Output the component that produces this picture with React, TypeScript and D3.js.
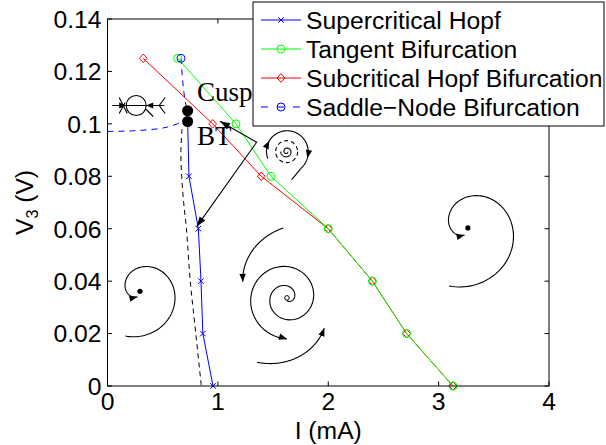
import React from "react";
import * as d3 from "d3";

type Pt = [number, number];

const xTicks = [0, 1, 2, 3, 4];
const yTicks = [0, 0.02, 0.04, 0.06, 0.08, 0.1, 0.12, 0.14];

// bifurcation curves: I (mA), V3 (V)
const superHopf: Pt[] = [[0.726, 0.1009], [0.738, 0.08], [0.823, 0.06], [0.847, 0.04], [0.864, 0.02], [0.956, 0]];
const tangent: Pt[] = [[0.636, 0.125], [1.164, 0.1], [1.481, 0.08], [2.0, 0.06], [2.4, 0.04], [2.71, 0.02], [3.13, 0]];
const subHopf: Pt[] = [[0.324, 0.125], [0.953, 0.1], [1.393, 0.08], [2.0, 0.06], [2.4, 0.04], [2.71, 0.02], [3.13, 0]];
const saddleNode: Pt[] = [[0.666, 0.125]];
const saddleNodeCurve: Pt[] = [[0.666, 0.125], [0.681, 0.1165], [0.702, 0.109], [0.723, 0.105]];
const homoclinic: Pt[] = [[0, 0.0971], [0.294, 0.0975], [0.536, 0.0987], [0.687, 0.1009]];
const blackDashed: Pt[] = [[0.675, 0.098], [0.665, 0.089], [0.672, 0.08], [0.69, 0.07], [0.715, 0.06], [0.75, 0.04], [0.80, 0.02], [0.85, 0]];

// special points and annotations
const cusp: Pt = [0.726, 0.105];
const bt: Pt = [0.726, 0.1009];
const cuspLabel: Pt = [0.81, 0.1087];
const btLabel: Pt = [0.81, 0.0921];
const pointer: Pt[] = [[1.019, 0.101], [1.351, 0.093], [0.808, 0.0608]];

// phase portrait sketches
const focusLeft: Pt = [0.294, 0.0361];
const focusRight: Pt = [3.265, 0.0603];
const focusMid: Pt = [1.626, 0.0336];
const cycleGlyph: Pt = [1.623, 0.0894];
const loopGlyph: Pt = [0.26, 0.107];

const legendItems = [
  { label: "Supercritical Hopf", color: "#0000ff", marker: "x", dash: "" },
  { label: "Tangent Bifurcation", color: "#00ff00", marker: "o", dash: "" },
  { label: "Subcritical Hopf Bifurcation", color: "#ff0000", marker: "d", dash: "" },
  { label: "Saddle\u2212Node Bifurcation", color: "#0000ff", marker: "o", dash: "7,9" },
];

const W = 606;
const H = 445;
const font = "'Liberation Sans', Arial, Helvetica, sans-serif";
const serif = "'Liberation Serif', 'Times New Roman', serif";
const fs = 24.7;

const x = d3.scaleLinear().domain([0, 4]).range([107.5, 549]);
const y = d3.scaleLinear().domain([0, 0.14]).range([386, 19]);

const line = d3.line<Pt>().x(d => x(d[0])).y(d => y(d[1]));
const smooth = d3.line<Pt>().x(d => x(d[0])).y(d => y(d[1])).curve(d3.curveCatmullRom);
const raw = d3.line<Pt>();

// sketch glyph: spiral arc around a centre, angles in degrees, radii in px
function spiral(c: Pt, a0: number, a1: number, r0: number, r1: number, k = 1): Pt[] {
  return d3.range(121).map(i => {
    const t = i / 120;
    const a = ((a0 + (a1 - a0) * t) * Math.PI) / 180;
    const r = (r0 + (r1 - r0) * t) * k;
    return [c[0] + r * Math.cos(a), c[1] + r * Math.sin(a)] as Pt;
  });
}

function head(from: Pt, tip: Pt, len = 8, hw = 3.2) {
  const dx = tip[0] - from[0];
  const dy = tip[1] - from[1];
  const n = Math.hypot(dx, dy) || 1;
  const ux = dx / n, uy = dy / n;
  const bx = tip[0] - ux * len, by = tip[1] - uy * len;
  return `M${tip[0]},${tip[1]}L${bx - uy * hw},${by + ux * hw}L${bx + uy * hw},${by - ux * hw}Z`;
}

function Marker({ kind, cx, cy, color }: { kind: string; cx: number; cy: number; color: string }) {
  if (kind === "x") {
    const s = 2.8;
    return <path d={`M${cx - s},${cy - s}L${cx + s},${cy + s}M${cx - s},${cy + s}L${cx + s},${cy - s}`} stroke={color} fill="none" />;
  }
  if (kind === "o") return <circle cx={cx} cy={cy} r={4} stroke={color} fill="none" />;
  const s = 4.3;
  return <path d={`M${cx},${cy - s}L${cx + s * 0.9},${cy}L${cx},${cy + s}L${cx - s * 0.9},${cy}Z`} stroke={color} fill="none" />;
}

function Traj({ pts, arrows = [] }: { pts: Pt[]; arrows?: number[] }) {
  return (
    <g>
      <path d={raw(pts) || ""} fill="none" stroke="#000" strokeWidth={1.1} />
      {arrows.map(i => (
        <path key={i} d={head(pts[Math.max(0, i - 4)], pts[i])} fill="#000" />
      ))}
    </g>
  );
}

function FocusSketch({ at, k }: { at: Pt; k: number }) {
  const c: Pt = [x(at[0]), y(at[1])];
  const pts = spiral(c, 108, -245, 47, 6, k);
  return (
    <g>
      <Traj pts={pts} arrows={[pts.length - 1]} />
      <circle cx={c[0]} cy={c[1]} r={2.6} fill="#000" />
    </g>
  );
}

function MidSketch({ at }: { at: Pt }) {
  const c: Pt = [x(at[0]), y(at[1])];
  const inner = spiral(c, 810, 90, 2.5, 41);
  const upper = spiral(c, -93, -160, 70, 47);
  const lower = spiral(c, 115, 39, 71, 48);
  return (
    <g>
      <circle cx={c[0]} cy={c[1]} r={2.3} fill="none" stroke="#000" />
      <Traj pts={inner} arrows={[inner.length - 1]} />
      <Traj pts={upper} arrows={[upper.length - 1]} />
      <Traj pts={lower} arrows={[lower.length - 1]} />
    </g>
  );
}

function CycleSketch({ at }: { at: Pt }) {
  const c: Pt = [x(at[0]), y(at[1])];
  const outer = spiral(c, -200, 50, 20, 22);
  const last = outer[outer.length - 1];
  const tail: Pt[] = [last, [c[0] + 10, c[1] + 22], [c[0] + 5, c[1] + 28]];
  const inner = spiral(c, 0, 540, 1, 6);
  return (
    <g>
      <Traj pts={outer} arrows={[25, 104]} />
      <path d={d3.line().curve(d3.curveBasis)(tail) || ""} fill="none" stroke="#000" strokeWidth={1.1} />
      <circle cx={c[0]} cy={c[1]} r={11} fill="none" stroke="#000" strokeWidth={1.1} strokeDasharray="4,3" />
      <path d={raw(inner) || ""} fill="none" stroke="#000" strokeWidth={1.1} />
    </g>
  );
}

function LoopSketch({ at }: { at: Pt }) {
  const [cx, cy] = [x(at[0]), y(at[1])];
  return (
    <g stroke="#000" strokeWidth={1.1} fill="none">
      <line x1={cx - 24} y1={cy} x2={cx + 28} y2={cy} />
      <circle cx={cx} cy={cy} r={10} />
      <path d={`M${cx - 17},${cy - 8}L${cx - 9},${cy + 8}M${cx - 17},${cy + 8}L${cx - 11},${cy - 3}`} />
      <path d={head([cx - 24, cy], [cx - 10, cy], 7, 3)} fill="#000" stroke="none" />
      <path d={head([cx + 24, cy], [cx + 10, cy], 7, 3)} fill="#000" stroke="none" />
      <path d={`M${cx + 10},${cy + 4}L${cx + 17},${cy + 11}`} />
      <path d={`M${cx + 29},${cy - 8}L${cx + 23},${cy}L${cx + 29},${cy + 8}`} />
    </g>
  );
}

export default function App() {
  const [x0, x1] = x.range();
  const [y0, y1] = y.range();
  const p = pointer.map(d => [x(d[0]), y(d[1])] as Pt);

  return (
    <svg width={W} height={H} style={{ position: "absolute", left: 0, top: 0, background: "#fff" }} fontFamily={font}>
      <rect width={W} height={H} fill="#fff" />

      {/* phase portraits */}
      <LoopSketch at={loopGlyph} />
      <FocusSketch at={focusLeft} k={1} />
      <FocusSketch at={focusRight} k={1.3} />
      <MidSketch at={focusMid} />
      <CycleSketch at={cycleGlyph} />

      {/* dashed curves */}
      <path d={smooth(homoclinic) || ""} fill="none" stroke="#0000ff" strokeDasharray="6,5" />
      <path d={smooth(saddleNodeCurve) || ""} fill="none" stroke="#0000ff" strokeDasharray="6,5" />
      <path d={smooth(blackDashed) || ""} fill="none" stroke="#000" strokeDasharray="5,4" />

      {/* bifurcation lines */}
      <path d={line(subHopf) || ""} fill="none" stroke="#ff0000" />
      <path d={line(tangent) || ""} fill="none" stroke="#00ff00" />
      <path d={line(superHopf) || ""} fill="none" stroke="#0000ff" />
      {subHopf.map((d, i) => <Marker key={`r${i}`} kind="d" cx={x(d[0])} cy={y(d[1])} color="#ff0000" />)}
      {tangent.map((d, i) => <Marker key={`g${i}`} kind="o" cx={x(d[0])} cy={y(d[1])} color="#00ff00" />)}
      {superHopf.map((d, i) => <Marker key={`b${i}`} kind="x" cx={x(d[0])} cy={y(d[1])} color="#0000ff" />)}
      {saddleNode.map((d, i) => <Marker key={`s${i}`} kind="o" cx={x(d[0])} cy={y(d[1])} color="#0000ff" />)}

      {/* cusp and BT */}
      <circle cx={x(cusp[0])} cy={y(cusp[1])} r={5.5} fill="#000" />
      <circle cx={x(bt[0])} cy={y(bt[1])} r={5.5} fill="#000" />
      <text x={x(cuspLabel[0])} y={y(cuspLabel[1])} fontFamily={serif} fontSize={27}>Cusp</text>
      <text x={x(btLabel[0])} y={y(btLabel[1])} fontFamily={serif} fontSize={27}>BT</text>
      <path d={raw(p) || ""} fill="none" stroke="#000" strokeWidth={1.1} />
      <path d={head(p[1], p[0], 10, 3.5)} fill="#000" />
      <path d={head(p[1], p[2], 10, 3.5)} fill="#000" />

      {/* axes box */}
      <rect x={x0} y={y1} width={x1 - x0} height={y0 - y1} fill="none" stroke="#000" />
      {xTicks.map(t => (
        <g key={`xt${t}`}>
          <line x1={x(t)} x2={x(t)} y1={y0} y2={y0 - 4.5} stroke="#000" />
          <line x1={x(t)} x2={x(t)} y1={y1} y2={y1 + 4.5} stroke="#000" />
          <text x={x(t)} y={y0 + 24} textAnchor="middle" fontSize={fs}>{t}</text>
        </g>
      ))}
      {yTicks.map(t => (
        <g key={`yt${t}`}>
          <line x1={x0} x2={x0 + 4.5} y1={y(t)} y2={y(t)} stroke="#000" />
          <line x1={x1} x2={x1 - 4.5} y1={y(t)} y2={y(t)} stroke="#000" />
          <text x={x0 - 6} y={y(t) + 8.8} textAnchor="end" fontSize={fs}>{String(t)}</text>
        </g>
      ))}
      <text x={(x0 + x1) / 2} y={438.5} textAnchor="middle" fontSize={fs}>I (mA)</text>
      <text transform={`translate(33,${(y0 + y1) / 2}) rotate(-90)`} textAnchor="middle" fontSize={fs}>
        V<tspan fontSize={16} dy={5}>3</tspan><tspan dy={-5}> (V)</tspan>
      </text>

      {/* legend */}
      <g>
        <rect x={253} y={2} width={351} height={124} fill="#fff" stroke="#000" />
        {legendItems.map((it, i) => {
          const ly = 20 + i * 29;
          return (
            <g key={it.label}>
              <line x1={261} x2={301} y1={ly} y2={ly} stroke={it.color} strokeDasharray={it.dash || undefined} />
              <Marker kind={it.marker} cx={281} cy={ly} color={it.color} />
              <text x={306} y={ly + 8.8} fontSize={fs}>{it.label}</text>
            </g>
          );
        })}
      </g>
    </svg>
  );
}
